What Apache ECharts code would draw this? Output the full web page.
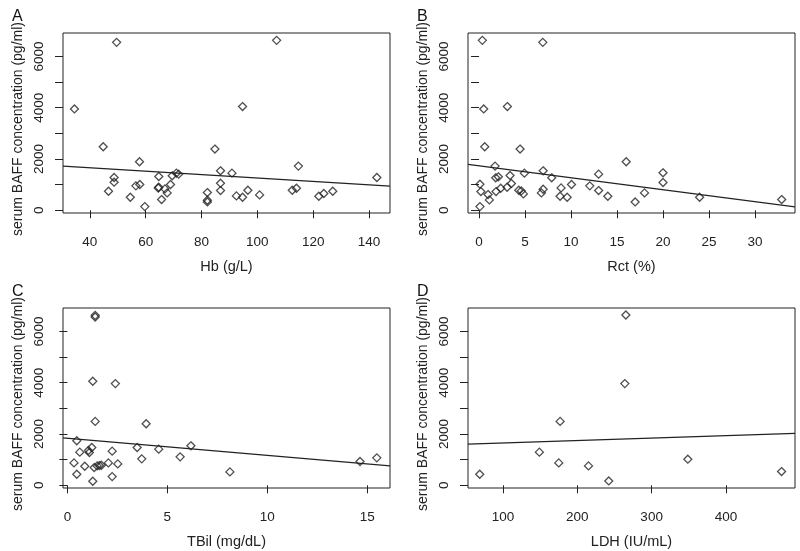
<!DOCTYPE html>
<html>
<head>
<meta charset="utf-8">
<script src="https://cdn.jsdelivr.net/npm/echarts@6/dist/echarts.min.js"></script>
<style>
  html, body { margin: 0; padding: 0; background: #fff; }
  #chart { width: 800px; height: 551px; }
</style>
</head>
<body>
<div id="chart"></div>
<script>
// 各图数据
const hb = [34.5, 49.6, 106.9, 44.8, 94.7, 84.8, 57.8, 114.7, 142.8, 48.7, 48.7, 46.7, 54.5, 56.5, 57.9, 59.7, 64.7, 64.7, 64.5, 65.7, 66.9, 67.7, 68.9, 69.5, 71.0, 71.8, 82.1, 82.1, 82.1, 86.8, 86.8, 86.8, 90.9, 92.5, 94.7, 96.6, 100.8, 112.5, 114.0, 122.0, 123.8, 127.0];
const bafA = [3954, 6551, 6629, 2480, 4046, 2388, 1892, 1723, 1279, 1279, 1096, 744, 509, 953, 1005, 144, 1318, 900, 870, 418, 835, 679, 1005, 1344, 1449, 1409, 692, 392, 326, 1540, 1057, 770, 1449, 561, 509, 783, 600, 783, 861, 548, 653, 744];

const rct = [0.36, 6.93, 0.51, 3.08, 0.62, 4.46, 16.0, 1.74, 1.81, 2.1, 3.37, 4.93, 6.97, 7.9, 13.0, 20.0, 20.0, 0.1, 0.2, 0.1, 0.98, 1.12, 1.85, 2.36, 3.05, 3.52, 4.32, 4.6, 4.82, 6.78, 6.97, 8.81, 8.92, 9.58, 10.05, 12.04, 13.0, 14.0, 16.97, 17.99, 23.98, 32.9];
const bafB = [6629, 6551, 3954, 4046, 2480, 2388, 1892, 1723, 1266, 1305, 1357, 1449, 1540, 1266, 1409, 1462, 1083, 1018, 731, 144, 613, 405, 731, 861, 900, 1044, 783, 757, 640, 679, 822, 548, 874, 509, 1005, 953, 770, 548, 326, 679, 509, 418];

const tbil = [1.39, 1.39, 1.27, 2.4, 1.39, 3.94, 0.47, 6.18, 0.62, 1.05, 1.1, 1.22, 2.24, 3.49, 4.57, 3.72, 5.64, 0.33, 0.87, 0.47, 1.27, 1.34, 1.49, 1.6, 1.7, 2.05, 2.52, 2.24, 8.13, 14.64, 15.48];
const bafC = [6629, 6564, 4059, 3967, 2493, 2401, 1736, 1540, 1292, 1357, 1279, 1475, 1331, 1475, 1409, 1031, 1109, 874, 744, 431, 157, 692, 757, 770, 783, 874, 835, 339, 522, 927, 1070];

const ldh = [265.3, 263.9, 176.8, 148.9, 175.0, 215.0, 242.3, 348.7, 474.9, 68.6];
const bafD = [6642, 3967, 2493, 1292, 874, 757, 170, 1018, 535, 431];

// 回归线两端（x 取坐标轴两端）
const fitA = [[30.4, 1723], [147.5, 940]];
const fitB = [[-1.2, 1788], [34.35, 130]];
const fitC = [[-0.22, 1853], [16.14, 757]];
const fitD = [[52.8, 1605], [493, 2023]];

// 坐标轴范围和刻度
const xRangeA = [30.4, 147.5], xTicksA = [40, 60, 80, 100, 120, 140];
const xRangeB = [-1.2, 34.35], xTicksB = [0, 5, 10, 15, 20, 25, 30];
const xRangeC = [-0.22, 16.14], xTicksC = [0, 5, 10, 15];
const xRangeD = [52.8, 493], xTicksD = [100, 200, 300, 400];
const yRange = [-106, 6916];
const yTicks = [0, 1000, 2000, 3000, 4000, 5000, 6000];
const yLabels = [0, 2000, 4000, 6000];

const panelNames = ['A', 'B', 'C', 'D'];
const xTitles = ['Hb (g/L)', 'Rct (%)', 'TBil (mg/dL)', 'LDH (IU/mL)'];
const yTitle = 'serum BAFF concentration (pg/ml)';

const FONT = '"Liberation Sans", Arial, sans-serif';
const INK = '#222';

const panels = [
  { x: hb, y: bafA, fit: fitA, range: xRangeA, ticks: xTicksA, left: 63, top: 33 },
  { x: rct, y: bafB, fit: fitB, range: xRangeB, ticks: xTicksB, left: 468, top: 33 },
  { x: tbil, y: bafC, fit: fitC, range: xRangeC, ticks: xTicksC, left: 63, top: 308 },
  { x: ldh, y: bafD, fit: fitD, range: xRangeD, ticks: xTicksD, left: 468, top: 308 }
];

let myChart = echarts.init(document.getElementById('chart'));

let grid = [], xAxis = [], yAxis = [], series = [], title = [];
panels.forEach((p, i) => {
  grid.push({
    left: p.left, top: p.top, width: 327, height: 180,
    show: true, borderColor: INK, borderWidth: 1, backgroundColor: 'transparent'
  });
  xAxis.push({
    gridIndex: i,
    type: 'value',
    min: p.range[0],
    max: p.range[1],
    name: xTitles[i],
    nameLocation: 'middle',
    nameGap: 46,
    nameTextStyle: { fontFamily: FONT, fontSize: 14.5, color: INK },
    axisLine: { show: false },
    axisTick: { show: true, length: 8, customValues: p.ticks, lineStyle: { color: INK } },
    axisLabel: { customValues: p.ticks, margin: 22, fontFamily: FONT, fontSize: 13.5, color: INK },
    splitLine: { show: false }
  });
  yAxis.push({
    gridIndex: i,
    type: 'value',
    min: yRange[0],
    max: yRange[1],
    name: yTitle,
    nameLocation: 'middle',
    nameGap: 38,
    nameRotate: 90,
    // 右侧留白让标题整体下移一点
    nameTextStyle: { fontFamily: FONT, fontSize: 14, color: INK, padding: [0, 12, 0, 0] },
    axisLine: { show: false },
    axisTick: { show: true, length: 8, customValues: yTicks, lineStyle: { color: INK } },
    axisLabel: {
      customValues: yLabels, rotate: 90, margin: 17,
      formatter: (v) => String(v),
      fontFamily: FONT, fontSize: 13.5, color: INK
    },
    splitLine: { show: false }
  });
  series.push({
    type: 'scatter',
    xAxisIndex: i,
    yAxisIndex: i,
    symbol: 'diamond',
    symbolSize: [8, 8],
    itemStyle: { color: 'rgba(0,0,0,0)', borderColor: INK, borderWidth: 1.3 },
    data: p.x.map((v, k) => [v, p.y[k]]),
    silent: true
  });
  series.push({
    type: 'line',
    xAxisIndex: i,
    yAxisIndex: i,
    showSymbol: false,
    lineStyle: { color: INK, width: 1.3 },
    data: p.fit,
    silent: true
  });
  title.push({
    text: panelNames[i],
    left: p.left - 51,
    top: p.top - 24,
    padding: 0,
    textStyle: { fontFamily: FONT, fontSize: 16, fontWeight: 'normal', color: '#111' }
  });
});

myChart.setOption({
  animation: false,
  title: title,
  grid: grid,
  xAxis: xAxis,
  yAxis: yAxis,
  series: series
});
</script>
</body>
</html>
